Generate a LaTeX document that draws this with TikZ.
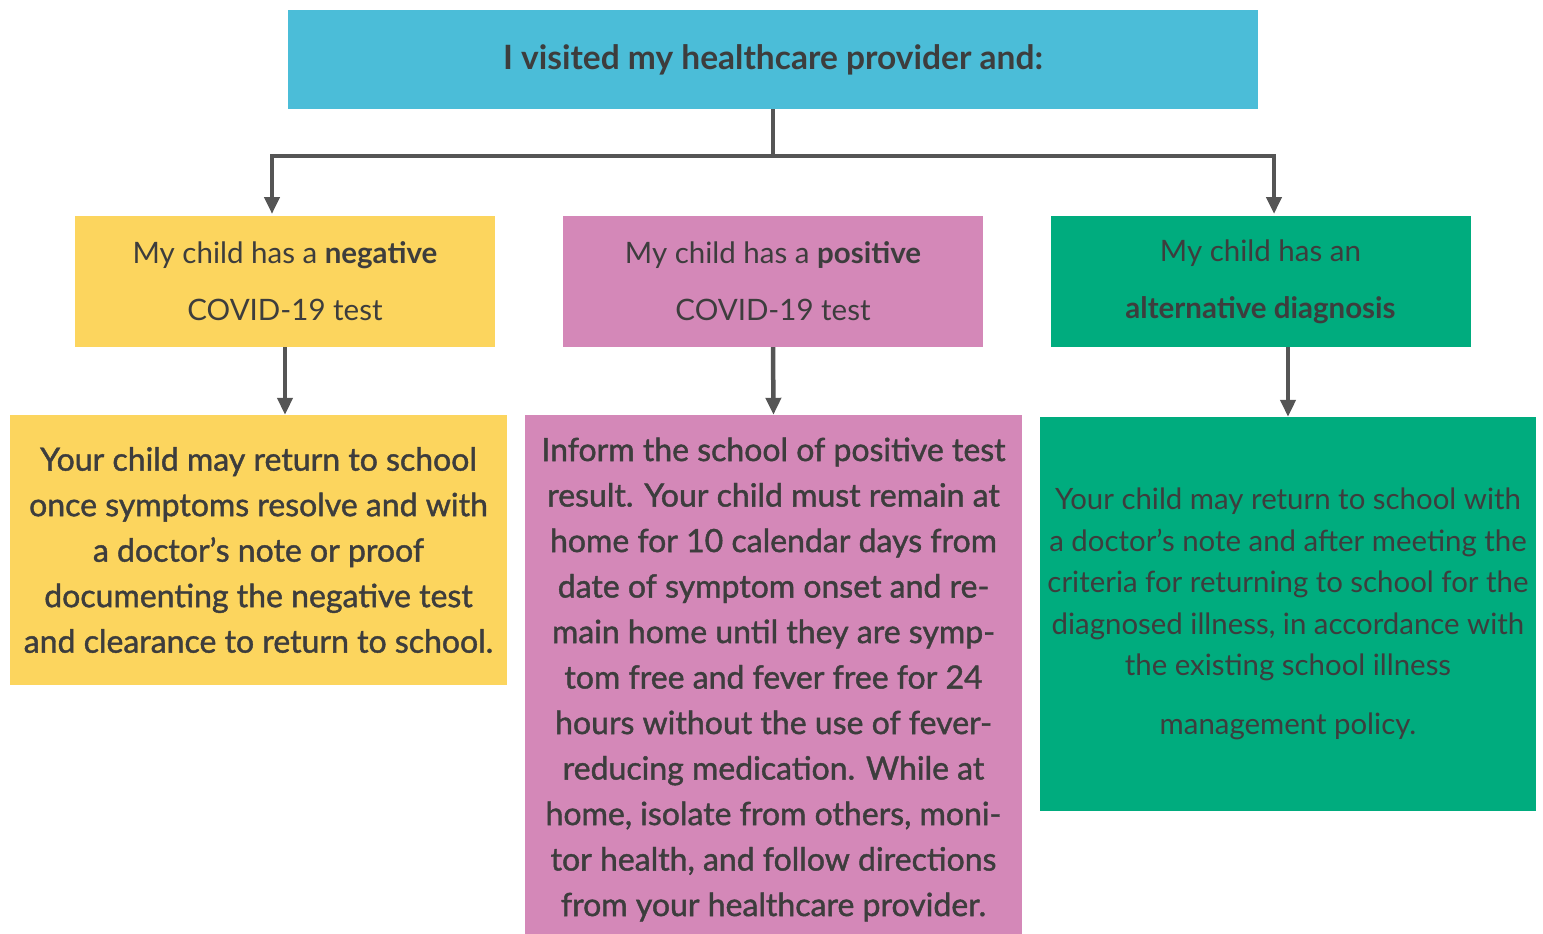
\documentclass[tikz,border=0pt]{standalone}
\usepackage{fontspec}
\setmainfont{Lato}
\newfontfamily\medfont{Lato}[RawFeature={embolden=1.3}]
\usepackage{tikz}
\usetikzlibrary{
  arrows.meta,
  calc
}
\definecolor{capblue}{HTML}{4BBDD8}
\definecolor{negyellow}{HTML}{FCD55E}
\definecolor{pospink}{HTML}{D488B8}
\definecolor{altgreen}{HTML}{00AC7E}
\definecolor{inkgray}{HTML}{3D3D3D}
\definecolor{linkgray}{HTML}{555555}
\tikzset{
  box/.style={
    inner sep=0pt,
    align=center,
    text=inkgray},
  midbox/.style={
    box,
    minimum width=420pt,
    minimum height=131pt,
    font=\fontsize{29.5}{57}\selectfont},
  textbox/.style={
    box,
    minimum width=497pt,
    font=\medfont\fontsize{32}{45.5}\selectfont},
  link/.style={
    draw=linkgray,
    line width=4.5pt},
  flow/.style={
    link,
    -{Triangle[width=15pt,length=17pt]}}
  }

\begin{document}
\begin{tikzpicture}[x=1pt,y=-1pt]
    \useasboundingbox (0,0) rectangle (1543,934);
    \node[box, fill=capblue, minimum width=970pt, minimum height=99pt,
      font=\fontsize{33.5}{40}\bfseries\selectfont] (visit) at (773,59.5)
      {I visited my healthcare provider and:};
    \node[midbox, fill=negyellow] (neg) at (285,281.5)
      {My child has a \textbf{negative}\\COVID-19 test};
    \node[midbox, fill=pospink] (pos) at (773,281.5)
      {My child has a \textbf{positive}\\COVID-19 test};
    \node[midbox, fill=altgreen] (alt) at (1260.5,281.5)
      {My child has an\\\textbf{alternative diagnosis}};
    \node[textbox, fill=negyellow, minimum height=270pt] (negtext) at (258.5,550)
      {Your child may return to school\\
       once symptoms resolve and with\\
       a doctor’s note or proof\\
       documenting the negative test\\
       and clearance to return to school.};
    \node[textbox, fill=pospink, minimum height=529pt] (postext) at (773.5,679.5)
      {Inform the school of positive test\\
       result. Your child must remain at\\
       home for 10 calendar days from\\
       date of symptom onset and re-\\
       main home until they are symp-\\
       tom free and fever free for 24\\
       hours without the use of fever-\\
       reducing medication. While at\\
       home, isolate from others, moni-\\
       tor health, and follow directions\\
       from your healthcare provider.};
    \node[textbox, fill=altgreen, minimum width=496pt, minimum height=394pt,
      font=\fontsize{29.4}{41.5}\selectfont] (alttext) at (1288,614)
      {Your child may return to school with\\
       a doctor's note and after meeting the\\
       criteria for returning to school for the\\
       diagnosed illness, in accordance with\\
       the existing school illness\\[17pt]
       management policy.};
    \coordinate (split) at (773,156);
    \coordinate (negin) at (272,214);
    \coordinate (altin) at (1274,214);
    \draw[link] (visit.south) -- (split);
    \draw[flow] (split) -| (negin);
    \draw[flow] (split) -| (altin);
    \draw[flow] (neg.south) -- (neg.south |- negtext.north);
    \draw[flow] (pos.south) -- (postext.north);
    \draw[flow] (alt.south -| alttext.north) -- (alttext.north);
\end{tikzpicture}
\end{document}
